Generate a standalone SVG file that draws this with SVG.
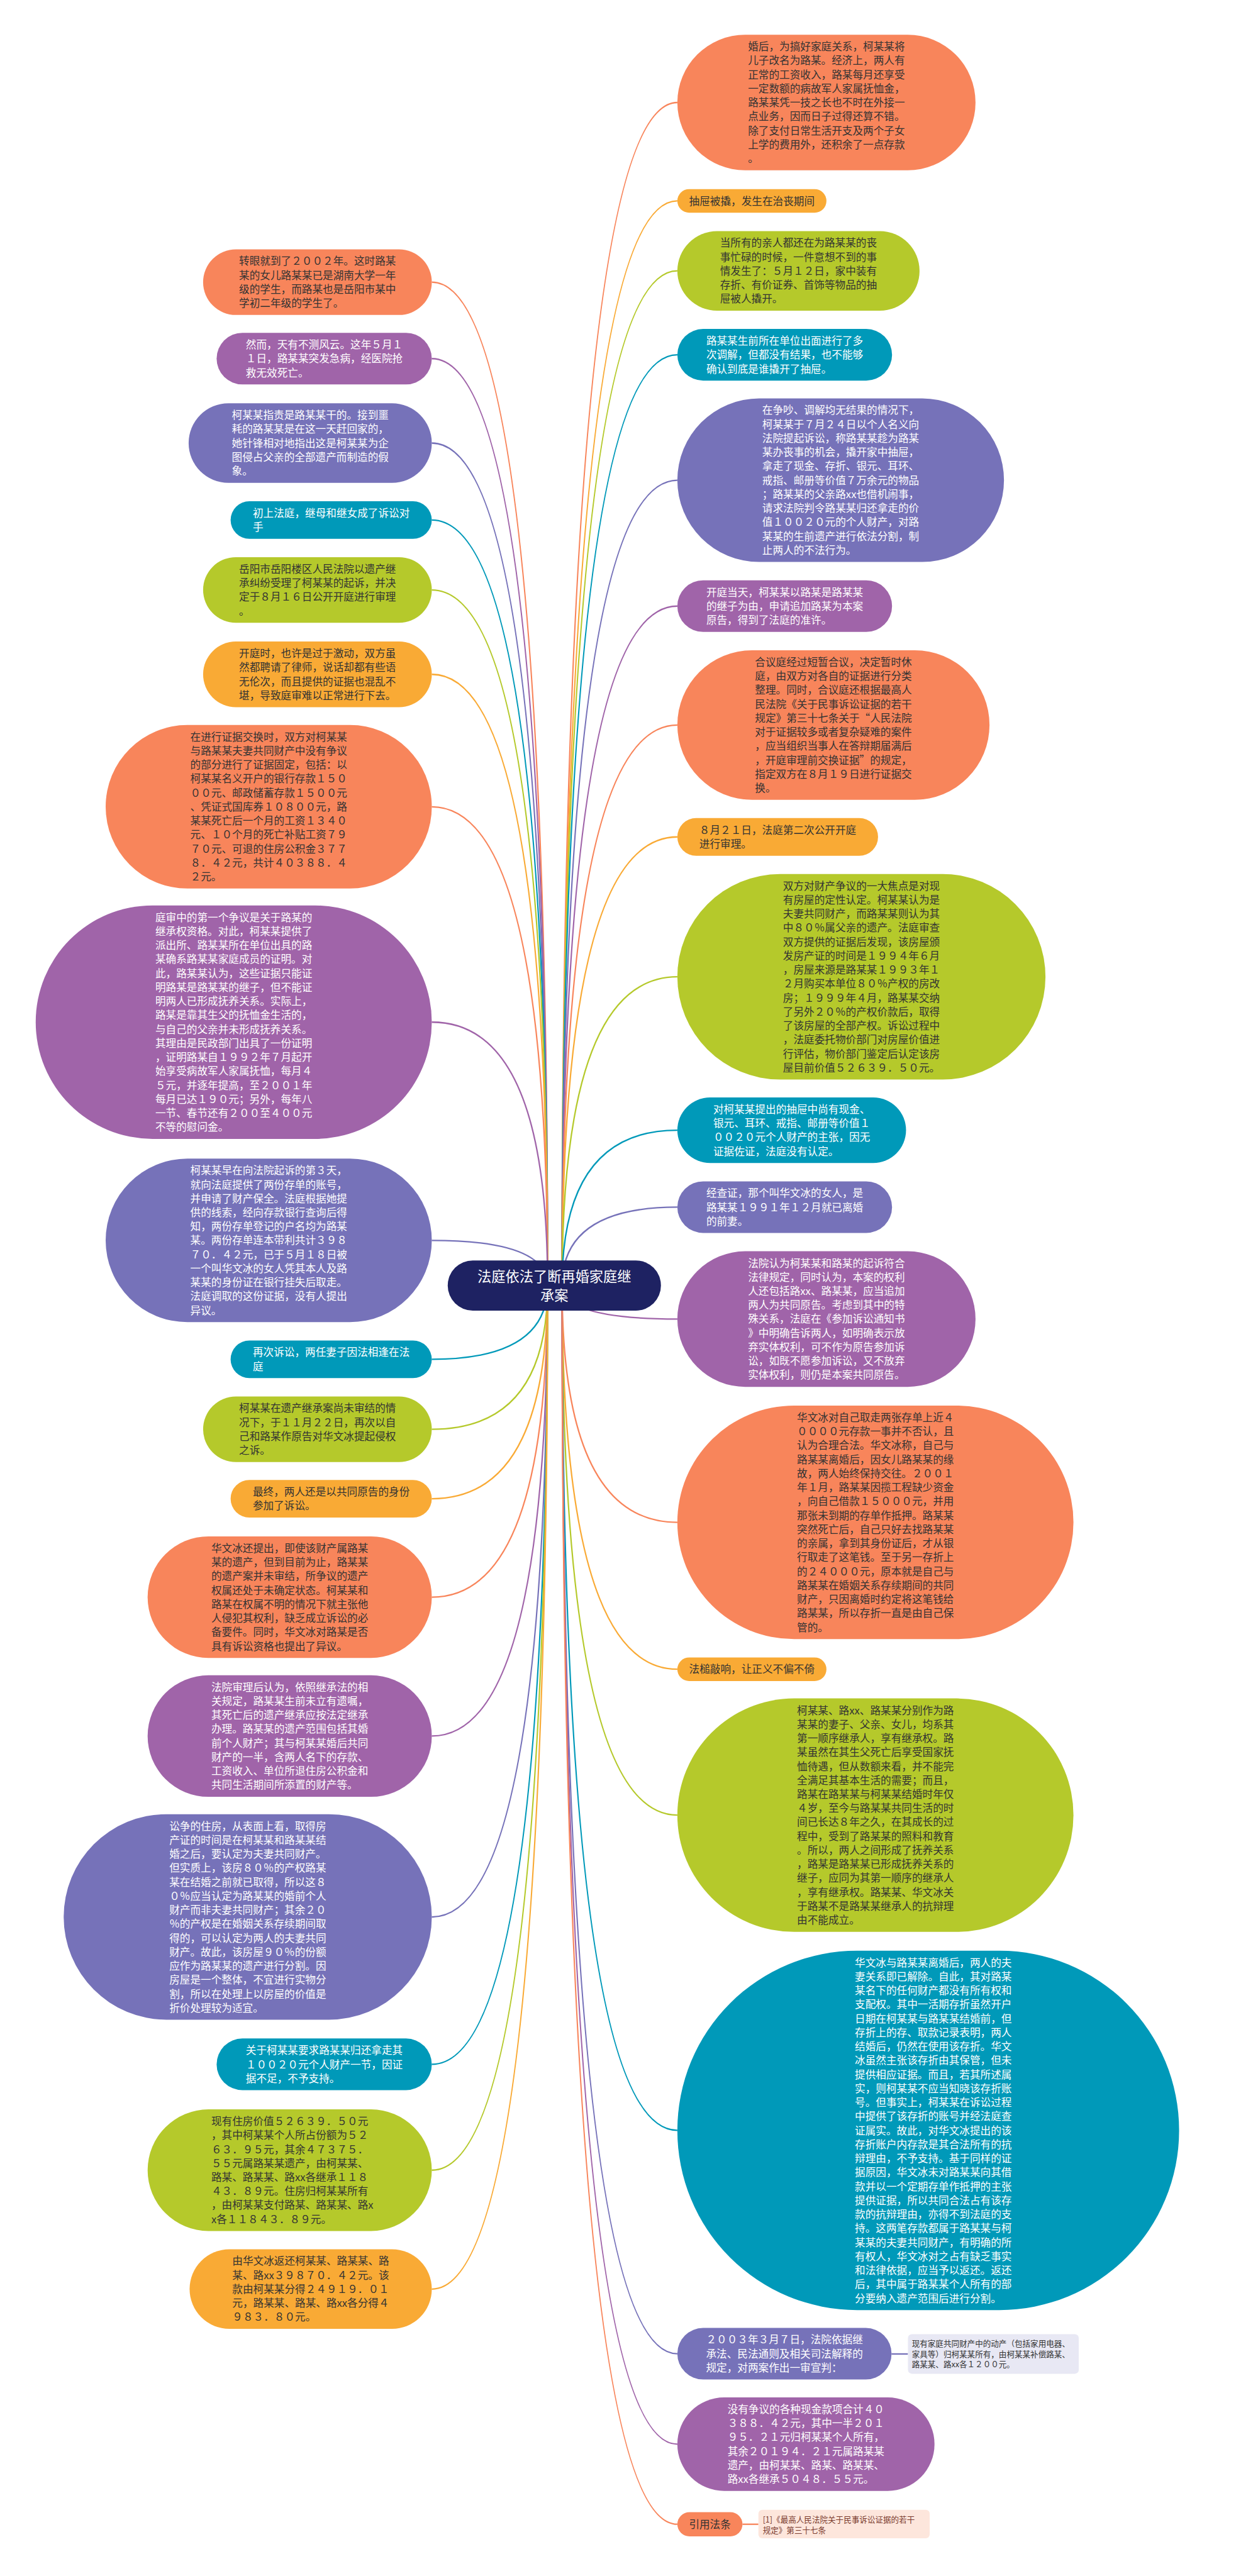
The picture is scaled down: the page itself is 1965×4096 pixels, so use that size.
<svg xmlns="http://www.w3.org/2000/svg" width="1965" height="4096" viewBox="0 0 1965 4096">
<style>
.t{font-family:"Noto Sans CJK SC","Noto Sans",sans-serif;font-size:21.7px}
.s{font-family:"Noto Sans CJK SC","Noto Sans",sans-serif;font-size:16.4px}
.w{fill:#ffffff}.d{fill:#333333}
.o{fill:#F8855B}.p{fill:#A064A9}.b{fill:#7672B9}.e{fill:#0099B9}.g{fill:#B5C92B}.y{fill:#F9AA35}
.c{fill:none;stroke-width:3}
.co{stroke:#F8855B}.cp{stroke:#A064A9}.cb{stroke:#7672B9}.ce{stroke:#0099B9}.cg{stroke:#B5C92B}.cy{stroke:#F9AA35}
</style>
<rect width="1965" height="4096" fill="#ffffff"/>
<g transform="scale(0.767)">
<g id="connectors">
<path class="c co" d="M1165,2665 Q1165,212.5 1404,212.5"/>
<path class="c cy" d="M1165,2665 Q1165,416.5 1404,416.5"/>
<path class="c cg" d="M1165,2665 Q1165,561.5 1404,561.5"/>
<path class="c ce" d="M1165,2665 Q1165,735.5 1404,735.5"/>
<path class="c cb" d="M1165,2665 Q1165,995.5 1404,995.5"/>
<path class="c cp" d="M1165,2665 Q1165,1256.5 1404,1256.5"/>
<path class="c co" d="M1165,2665 Q1165,1503 1404,1503"/>
<path class="c cy" d="M1165,2665 Q1165,1735 1404,1735"/>
<path class="c cg" d="M1165,2665 Q1165,2025 1404,2025"/>
<path class="c ce" d="M1165,2665 Q1165,2343 1404,2343"/>
<path class="c cb" d="M1165,2665 Q1165,2502.5 1404,2502.5"/>
<path class="c cp" d="M1165,2665 Q1165,2734.5 1404,2734.5"/>
<path class="c co" d="M1165,2665 Q1165,3156 1404,3156"/>
<path class="c cy" d="M1165,2665 Q1165,3460.5 1404,3460.5"/>
<path class="c cg" d="M1165,2665 Q1165,3763 1404,3763"/>
<path class="c ce" d="M1165,2665 Q1165,4416.5 1404,4416.5"/>
<path class="c cb" d="M1165,2665 Q1165,4879.5 1404,4879.5"/>
<path class="c cp" d="M1165,2665 Q1165,5067 1404,5067"/>
<path class="c co" d="M1165,2665 Q1165,5233 1404,5233"/>
<path class="c co" d="M1135,2665 Q1135,585 895,585"/>
<path class="c cp" d="M1135,2665 Q1135,743.5 895,743.5"/>
<path class="c cb" d="M1135,2665 Q1135,918.5 895,918.5"/>
<path class="c ce" d="M1135,2665 Q1135,1078 895,1078"/>
<path class="c cg" d="M1135,2665 Q1135,1223 895,1223"/>
<path class="c cy" d="M1135,2665 Q1135,1398 895,1398"/>
<path class="c co" d="M1135,2665 Q1135,1672.5 895,1672.5"/>
<path class="c cp" d="M1135,2665 Q1135,2119 895,2119"/>
<path class="c cb" d="M1135,2665 Q1135,2571.5 895,2571.5"/>
<path class="c ce" d="M1135,2665 Q1135,2818 895,2818"/>
<path class="c cg" d="M1135,2665 Q1135,2963 895,2963"/>
<path class="c cy" d="M1135,2665 Q1135,3107 895,3107"/>
<path class="c co" d="M1135,2665 Q1135,3311 895,3311"/>
<path class="c cp" d="M1135,2665 Q1135,3599 895,3599"/>
<path class="c cb" d="M1135,2665 Q1135,3974 895,3974"/>
<path class="c ce" d="M1135,2665 Q1135,4279.5 895,4279.5"/>
<path class="c cg" d="M1135,2665 Q1135,4499 895,4499"/>
<path class="c cy" d="M1135,2665 Q1135,4745.5 895,4745.5"/>
<path class="c cb" d="M1848,4880 L1882,4880"/>
<path class="c co" d="M1539,5233 L1572,5233"/>
</g>

<g id="root">
<rect x="928" y="2613" width="442" height="104" rx="52" fill="#1E2262"/>
<text class="t w" style="font-size:29px" text-anchor="middle"><tspan x="1149" y="2657">法庭依法了断再婚家庭继</tspan><tspan x="1149" y="2696">承案</tspan></text>
</g>

<g id="r1"><rect class="o" x="1404" y="72" width="618" height="281" rx="140.5"/>
<text class="t d" x="1550.5" y="104.5"><tspan x="1550.5">婚后，为搞好家庭关系，柯某某将</tspan><tspan x="1550.5" dy="29">儿子改名为路某。经济上，两人有</tspan><tspan x="1550.5" dy="29">正常的工资收入，路某每月还享受</tspan><tspan x="1550.5" dy="29">一定数额的病故军人家属抚恤金，</tspan><tspan x="1550.5" dy="29">路某某凭一技之长也不时在外接一</tspan><tspan x="1550.5" dy="29">点业务，因而日子过得还算不错。</tspan><tspan x="1550.5" dy="29">除了支付日常生活开支及两个子女</tspan><tspan x="1550.5" dy="29">上学的费用外，还积余了一点存款</tspan><tspan x="1550.5" dy="29">。</tspan></text></g>

<g id="r2"><rect class="y" x="1404" y="392" width="309" height="49" rx="24.5"/>
<text class="t d" x="1558.5" y="424.5" text-anchor="middle">抽屉被撬，发生在治丧期间</text></g>

<g id="r3"><rect class="g" x="1404" y="479" width="502" height="165" rx="82.5"/>
<text class="t d" x="1492.5" y="511.5"><tspan x="1492.5">当所有的亲人都还在为路某某的丧</tspan><tspan x="1492.5" dy="29">事忙碌的时候，一件意想不到的事</tspan><tspan x="1492.5" dy="29">情发生了：５月１２日，家中装有</tspan><tspan x="1492.5" dy="29">存折、有价证券、首饰等物品的抽</tspan><tspan x="1492.5" dy="29">屉被人撬开。</tspan></text></g>

<g id="r4"><rect class="e" x="1404" y="682" width="445" height="107" rx="53.5"/>
<text class="t w" x="1464" y="714.5"><tspan x="1464">路某某生前所在单位出面进行了多</tspan><tspan x="1464" dy="29">次调解，但都没有结果，也不能够</tspan><tspan x="1464" dy="29">确认到底是谁撬开了抽屉。</tspan></text></g>

<g id="r5"><rect class="b" x="1404" y="826" width="677" height="339" rx="169.5"/>
<text class="t w" x="1580" y="858.5"><tspan x="1580">在争吵、调解均无结果的情况下，</tspan><tspan x="1580" dy="29">柯某某于７月２４日以个人名义向</tspan><tspan x="1580" dy="29">法院提起诉讼，称路某某趁为路某</tspan><tspan x="1580" dy="29">某办丧事的机会，撬开家中抽屉，</tspan><tspan x="1580" dy="29">拿走了现金、存折、银元、耳环、</tspan><tspan x="1580" dy="29">戒指、邮册等价值７万余元的物品</tspan><tspan x="1580" dy="29">；路某某的父亲路xx也借机闹事，</tspan><tspan x="1580" dy="29">请求法院判令路某某归还拿走的价</tspan><tspan x="1580" dy="29">值１００２０元的个人财产，对路</tspan><tspan x="1580" dy="29">某某的生前遗产进行依法分割，制</tspan><tspan x="1580" dy="29">止两人的不法行为。</tspan></text></g>

<g id="r6"><rect class="p" x="1404" y="1203" width="445" height="107" rx="53.5"/>
<text class="t w" x="1464" y="1235.5"><tspan x="1464">开庭当天，柯某某以路某是路某某</tspan><tspan x="1464" dy="29">的继子为由，申请追加路某为本案</tspan><tspan x="1464" dy="29">原告，得到了法庭的准许。</tspan></text></g>

<g id="r7"><rect class="o" x="1404" y="1348" width="647" height="310" rx="155"/>
<text class="t d" x="1565" y="1380.5"><tspan x="1565">合议庭经过短暂合议，决定暂时休</tspan><tspan x="1565" dy="29">庭，由双方对各自的证据进行分类</tspan><tspan x="1565" dy="29">整理。同时，合议庭还根据最高人</tspan><tspan x="1565" dy="29">民法院《关于民事诉讼证据的若干</tspan><tspan x="1565" dy="29">规定》第三十七条关于“人民法院</tspan><tspan x="1565" dy="29">对于证据较多或者复杂疑难的案件</tspan><tspan x="1565" dy="29">，应当组织当事人在答辩期届满后</tspan><tspan x="1565" dy="29">，开庭审理前交换证据”的规定，</tspan><tspan x="1565" dy="29">指定双方在８月１９日进行证据交</tspan><tspan x="1565" dy="29">换。</tspan></text></g>

<g id="r8"><rect class="y" x="1404" y="1696" width="416" height="78" rx="39"/>
<text class="t d" x="1449.5" y="1728.5"><tspan x="1449.5">８月２１日，法庭第二次公开开庭</tspan><tspan x="1449.5" dy="29">进行审理。</tspan></text></g>

<g id="r9"><rect class="g" x="1404" y="1812" width="763" height="426" rx="213"/>
<text class="t d" x="1623" y="1844.5"><tspan x="1623">双方对财产争议的一大焦点是对现</tspan><tspan x="1623" dy="29">有房屋的定性认定。柯某某认为是</tspan><tspan x="1623" dy="29">夫妻共同财产，而路某某则认为其</tspan><tspan x="1623" dy="29">中８０％属父亲的遗产。法庭审查</tspan><tspan x="1623" dy="29">双方提供的证据后发现，该房屋颁</tspan><tspan x="1623" dy="29">发房产证的时间是１９９４年６月</tspan><tspan x="1623" dy="29">，房屋来源是路某某１９９３年１</tspan><tspan x="1623" dy="29">２月购买本单位８０％产权的房改</tspan><tspan x="1623" dy="29">房；１９９９年４月，路某某交纳</tspan><tspan x="1623" dy="29">了另外２０％的产权价款后，取得</tspan><tspan x="1623" dy="29">了该房屋的全部产权。诉讼过程中</tspan><tspan x="1623" dy="29">，法庭委托物价部门对房屋价值进</tspan><tspan x="1623" dy="29">行评估，物价部门鉴定后认定该房</tspan><tspan x="1623" dy="29">屋目前价值５２６３９．５０元。</tspan></text></g>

<g id="r10"><rect class="e" x="1404" y="2275" width="474" height="136" rx="68"/>
<text class="t w" x="1478.5" y="2307.5"><tspan x="1478.5">对柯某某提出的抽屉中尚有现金、</tspan><tspan x="1478.5" dy="29">银元、耳环、戒指、邮册等价值１</tspan><tspan x="1478.5" dy="29">００２０元个人财产的主张，因无</tspan><tspan x="1478.5" dy="29">证据佐证，法庭没有认定。</tspan></text></g>

<g id="r11"><rect class="b" x="1404" y="2449" width="445" height="107" rx="53.5"/>
<text class="t w" x="1464" y="2481.5"><tspan x="1464">经查证，那个叫华文冰的女人，是</tspan><tspan x="1464" dy="29">路某某１９９１年１２月就已离婚</tspan><tspan x="1464" dy="29">的前妻。</tspan></text></g>

<g id="r12"><rect class="p" x="1404" y="2594" width="618" height="281" rx="140.5"/>
<text class="t w" x="1550.5" y="2626.5"><tspan x="1550.5">法院认为柯某某和路某的起诉符合</tspan><tspan x="1550.5" dy="29">法律规定，同时认为，本案的权利</tspan><tspan x="1550.5" dy="29">人还包括路xx、路某某，应当追加</tspan><tspan x="1550.5" dy="29">两人为共同原告。考虑到其中的特</tspan><tspan x="1550.5" dy="29">殊关系，法庭在《参加诉讼通知书</tspan><tspan x="1550.5" dy="29">》中明确告诉两人，如明确表示放</tspan><tspan x="1550.5" dy="29">弃实体权利，可不作为原告参加诉</tspan><tspan x="1550.5" dy="29">讼，如既不愿参加诉讼，又不放弃</tspan><tspan x="1550.5" dy="29">实体权利，则仍是本案共同原告。</tspan></text></g>

<g id="r13"><rect class="o" x="1404" y="2914" width="821" height="484" rx="242"/>
<text class="t d" x="1652" y="2946.5"><tspan x="1652">华文冰对自己取走两张存单上近４</tspan><tspan x="1652" dy="29">００００元存款一事并不否认，且</tspan><tspan x="1652" dy="29">认为合理合法。华文冰称，自己与</tspan><tspan x="1652" dy="29">路某某离婚后，因女儿路某某的缘</tspan><tspan x="1652" dy="29">故，两人始终保持交往。２００１</tspan><tspan x="1652" dy="29">年１月，路某某因揽工程缺少资金</tspan><tspan x="1652" dy="29">，向自己借款１５０００元，并用</tspan><tspan x="1652" dy="29">那张未到期的存单作抵押。路某某</tspan><tspan x="1652" dy="29">突然死亡后，自己只好去找路某某</tspan><tspan x="1652" dy="29">的亲属，拿到其身份证后，才从银</tspan><tspan x="1652" dy="29">行取走了这笔钱。至于另一存折上</tspan><tspan x="1652" dy="29">的２４０００元，原本就是自己与</tspan><tspan x="1652" dy="29">路某某在婚姻关系存续期间的共同</tspan><tspan x="1652" dy="29">财产，只因离婚时约定将这笔钱给</tspan><tspan x="1652" dy="29">路某某，所以存折一直是由自己保</tspan><tspan x="1652" dy="29">管的。</tspan></text></g>

<g id="r14"><rect class="y" x="1404" y="3436" width="309" height="49" rx="24.5"/>
<text class="t d" x="1558.5" y="3468.5" text-anchor="middle">法槌敲响，让正义不偏不倚</text></g>

<g id="r15"><rect class="g" x="1404" y="3521" width="821" height="484" rx="242"/>
<text class="t d" x="1652" y="3553.5"><tspan x="1652">柯某某、路xx、路某某分别作为路</tspan><tspan x="1652" dy="29">某某的妻子、父亲、女儿，均系其</tspan><tspan x="1652" dy="29">第一顺序继承人，享有继承权。路</tspan><tspan x="1652" dy="29">某虽然在其生父死亡后享受国家抚</tspan><tspan x="1652" dy="29">恤待遇，但从数额来看，并不能完</tspan><tspan x="1652" dy="29">全满足其基本生活的需要；而且，</tspan><tspan x="1652" dy="29">路某在路某某与柯某某结婚时年仅</tspan><tspan x="1652" dy="29">４岁，至今与路某某共同生活的时</tspan><tspan x="1652" dy="29">间已长达８年之久，在其成长的过</tspan><tspan x="1652" dy="29">程中，受到了路某某的照料和教育</tspan><tspan x="1652" dy="29">。所以，两人之间形成了抚养关系</tspan><tspan x="1652" dy="29">，路某是路某某已形成抚养关系的</tspan><tspan x="1652" dy="29">继子，应同为其第一顺序的继承人</tspan><tspan x="1652" dy="29">，享有继承权。路某某、华文冰关</tspan><tspan x="1652" dy="29">于路某不是路某某继承人的抗辩理</tspan><tspan x="1652" dy="29">由不能成立。</tspan></text></g>

<g id="r16"><rect class="e" x="1404" y="4044" width="1040" height="745" rx="372.5"/>
<text class="t w" x="1772" y="4076.5"><tspan x="1772">华文冰与路某某离婚后，两人的夫</tspan><tspan x="1772" dy="29">妻关系即已解除。自此，其对路某</tspan><tspan x="1772" dy="29">某名下的任何财产都没有所有权和</tspan><tspan x="1772" dy="29">支配权。其中一活期存折虽然开户</tspan><tspan x="1772" dy="29">日期在柯某某与路某某结婚前，但</tspan><tspan x="1772" dy="29">存折上的存、取款记录表明，两人</tspan><tspan x="1772" dy="29">结婚后，仍然在使用该存折。华文</tspan><tspan x="1772" dy="29">冰虽然主张该存折由其保管，但未</tspan><tspan x="1772" dy="29">提供相应证据。而且，若其所述属</tspan><tspan x="1772" dy="29">实，则柯某某不应当知晓该存折账</tspan><tspan x="1772" dy="29">号。但事实上，柯某某在诉讼过程</tspan><tspan x="1772" dy="29">中提供了该存折的账号并经法庭查</tspan><tspan x="1772" dy="29">证属实。故此，对华文冰提出的该</tspan><tspan x="1772" dy="29">存折账户内存款是其合法所有的抗</tspan><tspan x="1772" dy="29">辩理由，不予支持。基于同样的证</tspan><tspan x="1772" dy="29">据原因，华文冰未对路某某向其借</tspan><tspan x="1772" dy="29">款并以一个定期存单作抵押的主张</tspan><tspan x="1772" dy="29">提供证据，所以共同合法占有该存</tspan><tspan x="1772" dy="29">款的抗辩理由，亦得不到法庭的支</tspan><tspan x="1772" dy="29">持。这两笔存款都属于路某某与柯</tspan><tspan x="1772" dy="29">某某的夫妻共同财产，有明确的所</tspan><tspan x="1772" dy="29">有权人，华文冰对之占有缺乏事实</tspan><tspan x="1772" dy="29">和法律依据，应当予以返还。返还</tspan><tspan x="1772" dy="29">后，其中属于路某某个人所有的部</tspan><tspan x="1772" dy="29">分要纳入遗产范围后进行分割。</tspan></text></g>

<g id="r17"><rect class="b" x="1404" y="4826" width="444" height="107" rx="53.5"/>
<text class="t w" x="1463.5" y="4858.5"><tspan x="1463.5">２００３年３月７日，法院依据继</tspan><tspan x="1463.5" dy="29">承法、民法通则及相关司法解释的</tspan><tspan x="1463.5" dy="29">规定，对两案作出一审宣判：</tspan></text></g>

<g id="r17a"><rect x="1882" y="4839" width="354" height="82" rx="8" fill="#E8E8F4"/>
<text class="s d" x="1890" y="4864"><tspan x="1890">现有家庭共同财产中的动产（包括家用电器、</tspan><tspan x="1890" dy="22">家具等）归柯某某所有，由柯某某补偿路某、</tspan><tspan x="1890" dy="22">路某某、路xx各１２００元。</tspan></text></g>

<g id="r18"><rect class="p" x="1404" y="4970" width="533" height="194" rx="97"/>
<text class="t w" x="1508" y="5002.5"><tspan x="1508">没有争议的各种现金款项合计４０</tspan><tspan x="1508" dy="29">３８８．４２元，其中一半２０１</tspan><tspan x="1508" dy="29">９５．２１元归柯某某个人所有，</tspan><tspan x="1508" dy="29">其余２０１９４．２１元属路某某</tspan><tspan x="1508" dy="29">遗产，由柯某某、路某、路某某、</tspan><tspan x="1508" dy="29">路xx各继承５０４８．５５元。</tspan></text></g>

<g id="r19"><rect class="o" x="1404" y="5208" width="135" height="50" rx="25"/>
<text class="t d" x="1471.5" y="5241" text-anchor="middle">引用法条</text></g>

<g id="r19a"><rect x="1572" y="5203" width="355" height="59" rx="8" fill="#FDE6DC"/>
<text class="s" fill="#7A3B2E" x="1581" y="5229"><tspan x="1581">[1]《最高人民法院关于民事诉讼证据的若干</tspan><tspan x="1581" dy="22">规定》第三十七条</tspan></text></g>

<g id="l1"><rect class="o" x="421" y="517" width="474" height="136" rx="68"/>
<text class="t d" x="495.5" y="549.5"><tspan x="495.5">转眼就到了２００２年。这时路某</tspan><tspan x="495.5" dy="29">某的女儿路某某已是湖南大学一年</tspan><tspan x="495.5" dy="29">级的学生，而路某也是岳阳市某中</tspan><tspan x="495.5" dy="29">学初二年级的学生了。</tspan></text></g>

<g id="l2"><rect class="p" x="449" y="690" width="446" height="107" rx="53.5"/>
<text class="t w" x="509.5" y="722.5"><tspan x="509.5">然而，天有不测风云。这年５月１</tspan><tspan x="509.5" dy="29">１日，路某某突发急病，经医院抢</tspan><tspan x="509.5" dy="29">救无效死亡。</tspan></text></g>

<g id="l3"><rect class="b" x="391" y="836" width="504" height="165" rx="82.5"/>
<text class="t w" x="480.5" y="868.5"><tspan x="480.5">柯某某指责是路某某干的。接到噩</tspan><tspan x="480.5" dy="29">耗的路某某是在这一天赶回家的，</tspan><tspan x="480.5" dy="29">她针锋相对地指出这是柯某某为企</tspan><tspan x="480.5" dy="29">图侵占父亲的全部遗产而制造的假</tspan><tspan x="480.5" dy="29">象。</tspan></text></g>

<g id="l4"><rect class="e" x="478" y="1039" width="417" height="78" rx="39"/>
<text class="t w" x="524" y="1071.5"><tspan x="524">初上法庭，继母和继女成了诉讼对</tspan><tspan x="524" dy="29">手</tspan></text></g>

<g id="l5"><rect class="g" x="421" y="1155" width="474" height="136" rx="68"/>
<text class="t d" x="495.5" y="1187.5"><tspan x="495.5">岳阳市岳阳楼区人民法院以遗产继</tspan><tspan x="495.5" dy="29">承纠纷受理了柯某某的起诉，并决</tspan><tspan x="495.5" dy="29">定于８月１６日公开开庭进行审理</tspan><tspan x="495.5" dy="29">。</tspan></text></g>

<g id="l6"><rect class="y" x="421" y="1330" width="474" height="136" rx="68"/>
<text class="t d" x="495.5" y="1362.5"><tspan x="495.5">开庭时，也许是过于激动，双方虽</tspan><tspan x="495.5" dy="29">然都聘请了律师，说话却都有些语</tspan><tspan x="495.5" dy="29">无伦次，而且提供的证据也混乱不</tspan><tspan x="495.5" dy="29">堪，导致庭审难以正常进行下去。</tspan></text></g>

<g id="l7"><rect class="o" x="219" y="1503" width="676" height="339" rx="169.5"/>
<text class="t d" x="394.5" y="1535.5"><tspan x="394.5">在进行证据交换时，双方对柯某某</tspan><tspan x="394.5" dy="29">与路某某夫妻共同财产中没有争议</tspan><tspan x="394.5" dy="29">的部分进行了证据固定，包括：以</tspan><tspan x="394.5" dy="29">柯某某名义开户的银行存款１５０</tspan><tspan x="394.5" dy="29">００元、邮政储蓄存款１５００元</tspan><tspan x="394.5" dy="29">、凭证式国库券１０８００元，路</tspan><tspan x="394.5" dy="29">某某死亡后一个月的工资１３４０</tspan><tspan x="394.5" dy="29">元、１０个月的死亡补贴工资７９</tspan><tspan x="394.5" dy="29">７０元、可退的住房公积金３７７</tspan><tspan x="394.5" dy="29">８．４２元，共计４０３８８．４</tspan><tspan x="394.5" dy="29">２元。</tspan></text></g>

<g id="l8"><rect class="p" x="74" y="1877" width="821" height="484" rx="242"/>
<text class="t w" x="322" y="1909.5"><tspan x="322">庭审中的第一个争议是关于路某的</tspan><tspan x="322" dy="29">继承权资格。对此，柯某某提供了</tspan><tspan x="322" dy="29">派出所、路某某所在单位出具的路</tspan><tspan x="322" dy="29">某确系路某某家庭成员的证明。对</tspan><tspan x="322" dy="29">此，路某某认为，这些证据只能证</tspan><tspan x="322" dy="29">明路某是路某某的继子，但不能证</tspan><tspan x="322" dy="29">明两人已形成抚养关系。实际上，</tspan><tspan x="322" dy="29">路某是靠其生父的抚恤金生活的，</tspan><tspan x="322" dy="29">与自己的父亲并未形成抚养关系。</tspan><tspan x="322" dy="29">其理由是民政部门出具了一份证明</tspan><tspan x="322" dy="29">，证明路某自１９９２年７月起开</tspan><tspan x="322" dy="29">始享受病故军人家属抚恤，每月４</tspan><tspan x="322" dy="29">５元，并逐年提高，至２００１年</tspan><tspan x="322" dy="29">每月已达１９０元；另外，每年八</tspan><tspan x="322" dy="29">一节、春节还有２００至４００元</tspan><tspan x="322" dy="29">不等的慰问金。</tspan></text></g>

<g id="l9"><rect class="b" x="219" y="2402" width="676" height="339" rx="169.5"/>
<text class="t w" x="394.5" y="2434.5"><tspan x="394.5">柯某某早在向法院起诉的第３天，</tspan><tspan x="394.5" dy="29">就向法庭提供了两份存单的账号，</tspan><tspan x="394.5" dy="29">并申请了财产保全。法庭根据她提</tspan><tspan x="394.5" dy="29">供的线索，经向存款银行查询后得</tspan><tspan x="394.5" dy="29">知，两份存单登记的户名均为路某</tspan><tspan x="394.5" dy="29">某。两份存单连本带利共计３９８</tspan><tspan x="394.5" dy="29">７０．４２元，已于５月１８日被</tspan><tspan x="394.5" dy="29">一个叫华文冰的女人凭其本人及路</tspan><tspan x="394.5" dy="29">某某的身份证在银行挂失后取走。</tspan><tspan x="394.5" dy="29">法庭调取的这份证据，没有人提出</tspan><tspan x="394.5" dy="29">异议。</tspan></text></g>

<g id="l10"><rect class="e" x="478" y="2779" width="417" height="78" rx="39"/>
<text class="t w" x="524" y="2811.5"><tspan x="524">再次诉讼，两任妻子因法相逢在法</tspan><tspan x="524" dy="29">庭</tspan></text></g>

<g id="l11"><rect class="g" x="421" y="2895" width="474" height="136" rx="68"/>
<text class="t d" x="495.5" y="2927.5"><tspan x="495.5">柯某某在遗产继承案尚未审结的情</tspan><tspan x="495.5" dy="29">况下，于１１月２２日，再次以自</tspan><tspan x="495.5" dy="29">己和路某作原告对华文冰提起侵权</tspan><tspan x="495.5" dy="29">之诉。</tspan></text></g>

<g id="l12"><rect class="y" x="478" y="3068" width="417" height="78" rx="39"/>
<text class="t d" x="524" y="3100.5"><tspan x="524">最终，两人还是以共同原告的身份</tspan><tspan x="524" dy="29">参加了诉讼。</tspan></text></g>

<g id="l13"><rect class="o" x="306" y="3185" width="589" height="252" rx="126"/>
<text class="t d" x="438" y="3217.5"><tspan x="438">华文冰还提出，即使该财产属路某</tspan><tspan x="438" dy="29">某的遗产，但到目前为止，路某某</tspan><tspan x="438" dy="29">的遗产案并未审结，所争议的遗产</tspan><tspan x="438" dy="29">权属还处于未确定状态。柯某某和</tspan><tspan x="438" dy="29">路某在权属不明的情况下就主张他</tspan><tspan x="438" dy="29">人侵犯其权利，缺乏成立诉讼的必</tspan><tspan x="438" dy="29">备要件。同时，华文冰对路某是否</tspan><tspan x="438" dy="29">具有诉讼资格也提出了异议。</tspan></text></g>

<g id="l14"><rect class="p" x="306" y="3473" width="589" height="252" rx="126"/>
<text class="t w" x="438" y="3505.5"><tspan x="438">法院审理后认为，依照继承法的相</tspan><tspan x="438" dy="29">关规定，路某某生前未立有遗嘱，</tspan><tspan x="438" dy="29">其死亡后的遗产继承应按法定继承</tspan><tspan x="438" dy="29">办理。路某某的遗产范围包括其婚</tspan><tspan x="438" dy="29">前个人财产；其与柯某某婚后共同</tspan><tspan x="438" dy="29">财产的一半，含两人名下的存款、</tspan><tspan x="438" dy="29">工资收入、单位所退住房公积金和</tspan><tspan x="438" dy="29">共同生活期间所添置的财产等。</tspan></text></g>

<g id="l15"><rect class="b" x="132" y="3761" width="763" height="426" rx="213"/>
<text class="t w" x="351" y="3793.5"><tspan x="351">讼争的住房，从表面上看，取得房</tspan><tspan x="351" dy="29">产证的时间是在柯某某和路某某结</tspan><tspan x="351" dy="29">婚之后，要认定为夫妻共同财产。</tspan><tspan x="351" dy="29">但实质上，该房８０％的产权路某</tspan><tspan x="351" dy="29">某在结婚之前就已取得，所以这８</tspan><tspan x="351" dy="29">０％应当认定为路某某的婚前个人</tspan><tspan x="351" dy="29">财产而非夫妻共同财产；其余２０</tspan><tspan x="351" dy="29">％的产权是在婚姻关系存续期间取</tspan><tspan x="351" dy="29">得的，可以认定为两人的夫妻共同</tspan><tspan x="351" dy="29">财产。故此，该房屋９０％的份额</tspan><tspan x="351" dy="29">应作为路某某的遗产进行分割。因</tspan><tspan x="351" dy="29">房屋是一个整体，不宜进行实物分</tspan><tspan x="351" dy="29">割，所以在处理上以房屋的价值是</tspan><tspan x="351" dy="29">折价处理较为适宜。</tspan></text></g>

<g id="l16"><rect class="e" x="449" y="4226" width="446" height="107" rx="53.5"/>
<text class="t w" x="509.5" y="4258.5"><tspan x="509.5">关于柯某某要求路某某归还拿走其</tspan><tspan x="509.5" dy="29">１００２０元个人财产一节，因证</tspan><tspan x="509.5" dy="29">据不足，不予支持。</tspan></text></g>

<g id="l17"><rect class="g" x="306" y="4373" width="589" height="252" rx="126"/>
<text class="t d" x="438" y="4405.5"><tspan x="438">现有住房价值５２６３９．５０元</tspan><tspan x="438" dy="29">，其中柯某某个人所占份额为５２</tspan><tspan x="438" dy="29">６３．９５元，其余４７３７５．</tspan><tspan x="438" dy="29">５５元属路某某遗产，由柯某某、</tspan><tspan x="438" dy="29">路某、路某某、路xx各继承１１８</tspan><tspan x="438" dy="29">４３．８９元。住房归柯某某所有</tspan><tspan x="438" dy="29">，由柯某某支付路某、路某某、路x</tspan><tspan x="438" dy="29">x各１１８４３．８９元。</tspan></text></g>

<g id="l18"><rect class="y" x="393" y="4663" width="502" height="165" rx="82.5"/>
<text class="t d" x="481.5" y="4695.5"><tspan x="481.5">由华文冰返还柯某某、路某某、路</tspan><tspan x="481.5" dy="29">某、路xx３９８７０．４２元。该</tspan><tspan x="481.5" dy="29">款由柯某某分得２４９１９．０１</tspan><tspan x="481.5" dy="29">元，路某某、路某、路xx各分得４</tspan><tspan x="481.5" dy="29">９８３．８０元。</tspan></text></g>
</g>
</svg>
